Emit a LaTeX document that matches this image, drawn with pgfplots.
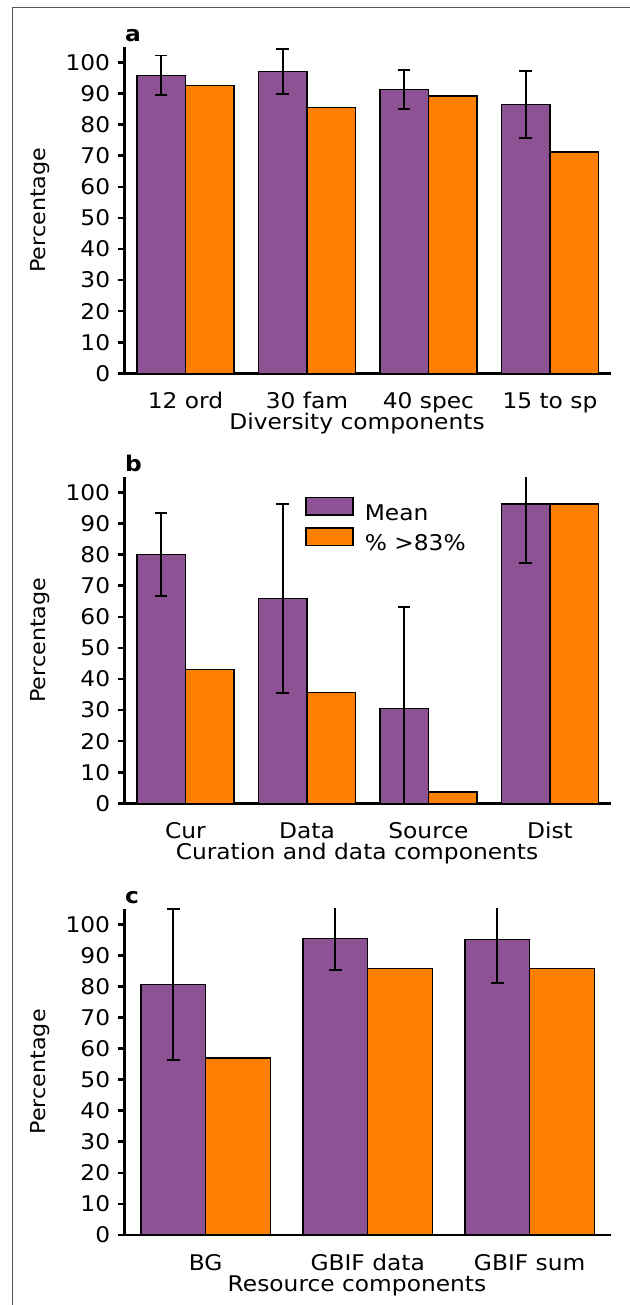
\documentclass[border=0pt]{standalone}
\usepackage{fontspec}
\setmainfont{DejaVu Sans}[FakeStretch=1.08]
\usepackage{pgfplots}
\pgfplotsset{compat=1.18}

\definecolor{mpurple}{RGB}{140,82,147}
\definecolor{morange}{RGB}{255,128,0}
\definecolor{framegray}{RGB}{85,85,85}

\newcommand{\lblfont}{\fontsize{10.8}{13}\selectfont}

\pgfplotsset{
  panel/.style={
    scale only axis,
    width=243pt, height=163.15pt,
    axis lines*=left,
    axis line style={line width=1.3pt},
    ymin=0, ymax=105,
    ytick={0,10,...,100},
    tick align=outside,
    major tick length=3.5pt,
    ytick style={line width=1.3pt, black},
    xtick style={draw=none},
    ybar,
    bar width=0.4,
    /pgf/number format/assume math mode=true,
    tick label style={font=\lblfont},
    yticklabel style={anchor=east, inner sep=0pt, xshift=-3.6pt},
    xticklabel style={anchor=base, inner sep=0pt, yshift=-14pt},
    xlabel style={at={(axis description cs:0.478,0)}, anchor=base,
      inner sep=0pt, yshift=-28pt, font=\lblfont},
    ylabel={Percentage},
    ylabel style={at={(axis description cs:-0.1737,0.5)}, anchor=center,
      inner sep=0pt, font=\fontsize{10.3}{12}\selectfont},
    title style={at={(axis description cs:0,1)}, anchor=base west,
      inner sep=0pt, yshift=-3.3pt, font=\bfseries\lblfont},
  },
  mean/.style={fill=mpurple, draw=black, line width=0.7pt, bar shift=-0.2,
    error bars/.cd, y dir=both, y explicit,
    error bar style={line width=0.85pt, black},
    error mark options={rotate=90, line width=0.85pt, mark size=3.1pt, black}},
  pct/.style={fill=morange, draw=black, line width=0.7pt, bar shift=0.2},
}

\begin{document}
\begin{tikzpicture}
\useasboundingbox (0,0) rectangle (315pt,-652.5pt);
\draw[framegray, line width=0.55pt] (6.35pt,-652.5pt) -- (6.35pt,-3.65pt) -- (315pt,-3.65pt);

% a: diversity
\begin{axis}[panel, at={(62.35pt,-186.65pt)}, anchor=south west,
    xmin=-0.5, xmax=3.5, xtick={0,1,2,3},
    xticklabels={12 ord, 30 fam, 40 spec, 15 to sp},
    xlabel={Diversity components}, title={a}]
  \addplot[mean] coordinates {
    (0,95.9) +- (0,6.4)
    (1,97.1) +- (0,7.2)
    (2,91.4) +- (0,6.3)
    (3,86.5) +- (0,10.7)
  };
  \addplot[pct] coordinates {(0,92.7) (1,85.5) (2,89.2) (3,71.2)};
\end{axis}

% b: curation and data
\begin{axis}[panel, at={(62.35pt,-401.65pt)}, anchor=south west,
    xmin=-0.5, xmax=3.5, xtick={0,1,2,3},
    xticklabels={Cur, Data, Source, Dist},
    xlabel={Curation and data components}, title={b},
    legend style={draw=none, fill=none, at={(0.3718,0.9396)}, anchor=north west,
      inner sep=0pt, outer sep=0pt, column sep=5.5pt, row sep=0pt,
      nodes={inner sep=0pt, text height=8.8pt, text depth=3.6pt, font=\lblfont}},
    legend cell align=left,
    legend image code/.code={\draw[#1, line width=0.7pt] (0pt,0pt) rectangle (23.5pt,8.8pt);}]
  \addplot[mean] coordinates {
    (0,80.0) +- (0,13.4)
    (1,65.9) +- (0,30.4)
    (2,30.5) +- (0,32.6)
    (3,96.3) +- (0,19.0)
  };
  \addlegendentry{Mean}
  \addplot[pct] coordinates {(0,43.0) (1,35.6) (2,3.6) (3,96.3)};
  \addlegendentry{\% >83\%}
\end{axis}

% c: resources
\begin{axis}[panel, at={(62.35pt,-617.5pt)}, anchor=south west,
    xmin=-0.5, xmax=2.5, xtick={0,1,2},
    xticklabels={BG, GBIF data, GBIF sum},
    xlabel={Resource components}, title={c}]
  \addplot[mean] coordinates {
    (0,80.6) +- (0,24.3)
    (1,95.5) +- (0,10.3)
    (2,95.1) +- (0,14.1)
  };
  \addplot[pct] coordinates {(0,57.0) (1,85.8) (2,85.8)};
\end{axis}
\end{tikzpicture}
\end{document}
